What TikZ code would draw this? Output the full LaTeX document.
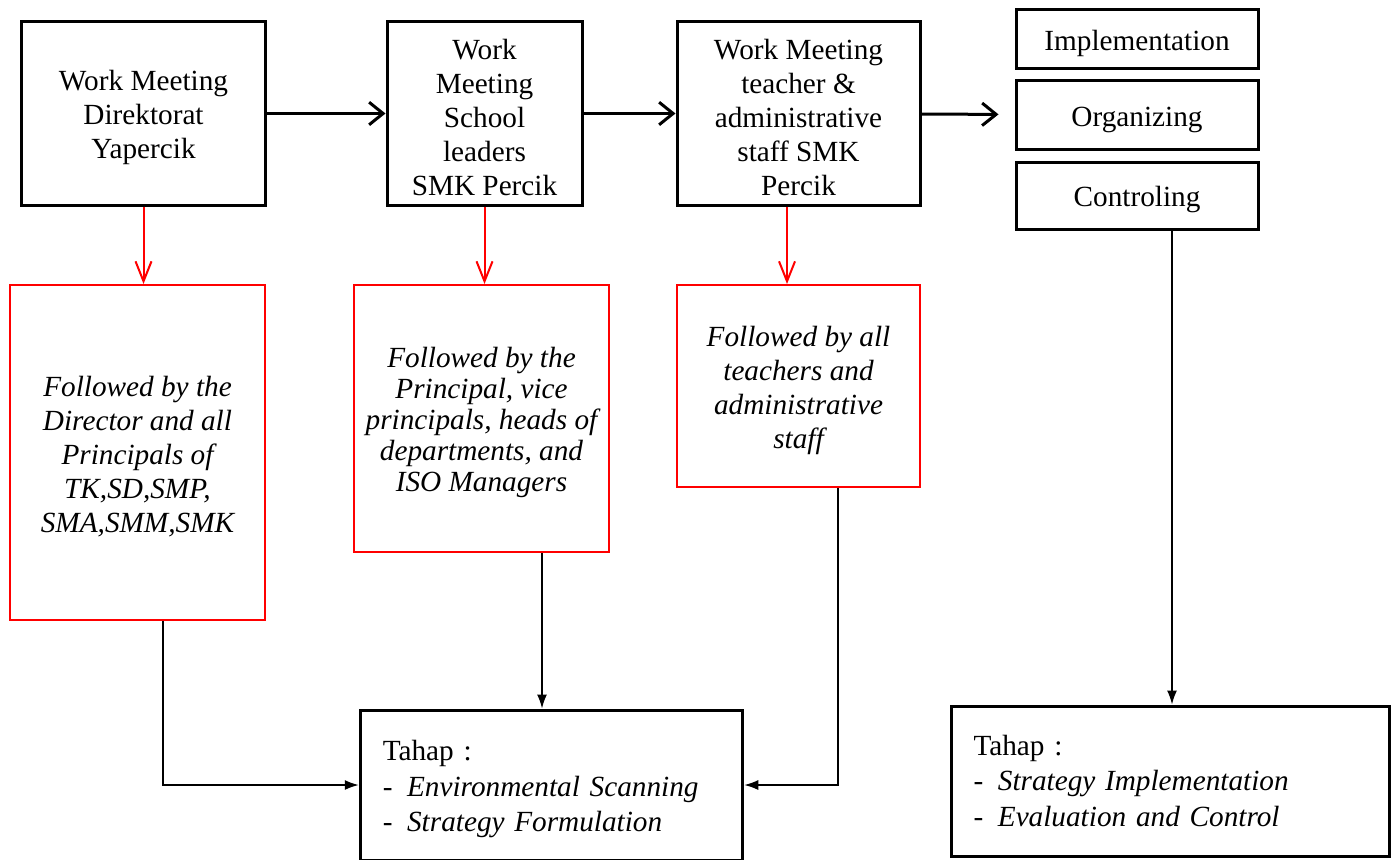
\documentclass[tikz,border=0pt]{standalone}
\usepackage{fontspec}
\setmainfont{LiberationSerif}[Extension=.ttf, UprightFont=*-Regular, ItalicFont=*-Italic, BoldFont=*-Bold, BoldItalicFont=*-BoldItalic]
\usetikzlibrary{arrows.meta}
\newcommand{\liftline}{\rule{0pt}{11.6pt}}

\begin{document}
\begin{tikzpicture}[x=.4pt, y=-.4pt,
		every node/.style={font=\fontsize{11.7pt}{13.6pt}\selectfont, align=center, inner sep=0pt},
		meeting/.style={draw, line width=1.2pt, minimum height=73.2pt},
		stage/.style={draw, line width=1.2pt, minimum width=96.8pt},
		followed/.style={draw=red, line width=.8pt, font=\fontsize{11.7pt}{13.6pt}\selectfont\itshape},
		tahap/.style={draw, line width=1.2pt, minimum height=60pt, align=left, inner xsep=9pt, font=\fontsize{11.7pt}{14.2pt}\selectfont},
		flow/.style={line width=1.2pt, -{Straight Barb[length=5.6pt,width=9pt]}},
		redflow/.style={red, line width=.8pt, -{Straight Barb[length=8pt,width=6.4pt]}},
		link/.style={line width=.6pt, -{Latex[length=5.6pt,width=4pt]}}]
				\useasboundingbox (0,0) rectangle (1397,859);
				\node[meeting, minimum width=97.2pt] (dir) at (143.5,113.5) {\liftline Work Meeting\\Direktorat\\Yapercik};
				\node[meeting, minimum width=78pt] (lead) at (484.5,113.5) {\liftline Work\\Meeting\\School\\leaders\\SMK Percik};
				\node[meeting, minimum width=97.2pt] (staff) at (798.5,113.5) {\liftline Work Meeting\\teacher \&\\administrative\\staff SMK\\Percik};
				\node[stage, minimum height=23.6pt] (impl) at (1137,39.5) {\liftline Implementation};
				\node[stage, minimum height=27.2pt] (org) at (1137,115) {\liftline Organizing};
				\node[stage, minimum height=26.8pt] (ctrl) at (1137,195.5) {\liftline Controling};
				\node[followed, minimum width=102pt, minimum height=134pt] (fdir) at (137.5,452.5) {\liftline Followed by the\\Director and all\\Principals of\\TK,SD,SMP,\\SMA,SMM,SMK};
				\node[followed, minimum width=102pt, minimum height=106.8pt, font=\fontsize{11.7pt}{12.4pt}\selectfont\itshape] (flead) at (481.5,418.5) {\liftline Followed by the\\Principal, vice\\principals, heads of\\departments, and\\ISO Managers};
				\node[followed, minimum width=97.2pt, minimum height=80.8pt] (fstaff) at (798.5,386) {\liftline Followed by all\\teachers and\\administrative\\staff};
				\node[tahap, text width=135pt] (form) at (551.5,785) {\liftline Tahap :\\-\enspace\textit{Environmental Scanning}\\-\enspace\textit{Strategy Formulation}};
				\node[tahap, text width=157.2pt] (impc) at (1170,781) {Tahap :\\-\enspace\textit{Strategy Implementation}\\-\enspace\textit{Evaluation and Control}};
				\draw[flow] (dir) -- (lead);
				\draw[flow] (lead) -- (staff);
				\draw[flow, shorten >=6.4pt] (staff) -- (org);
				\draw[redflow] (dir.south) -- (dir.south |- fdir.north);
				\draw[redflow] (lead.south) -- (lead.south |- flead.north);
				\draw[redflow] ([xshift=-4.6pt]staff.south) -- ([xshift=-4.6pt]staff.south |- fstaff.north);
				\draw[link] ([xshift=10.2pt]fdir.south) |- (form.west);
				\draw[link] ([xshift=24.2pt]flead.south) -- ([xshift=24.2pt]flead.south |- form.north);
				\draw[link] ([xshift=15.8pt]fstaff.south) |- (form.east);
				\draw[link] ([xshift=14pt]ctrl.south) -- ([xshift=14pt]ctrl.south |- impc.north);
			\end{tikzpicture}
\end{document}
